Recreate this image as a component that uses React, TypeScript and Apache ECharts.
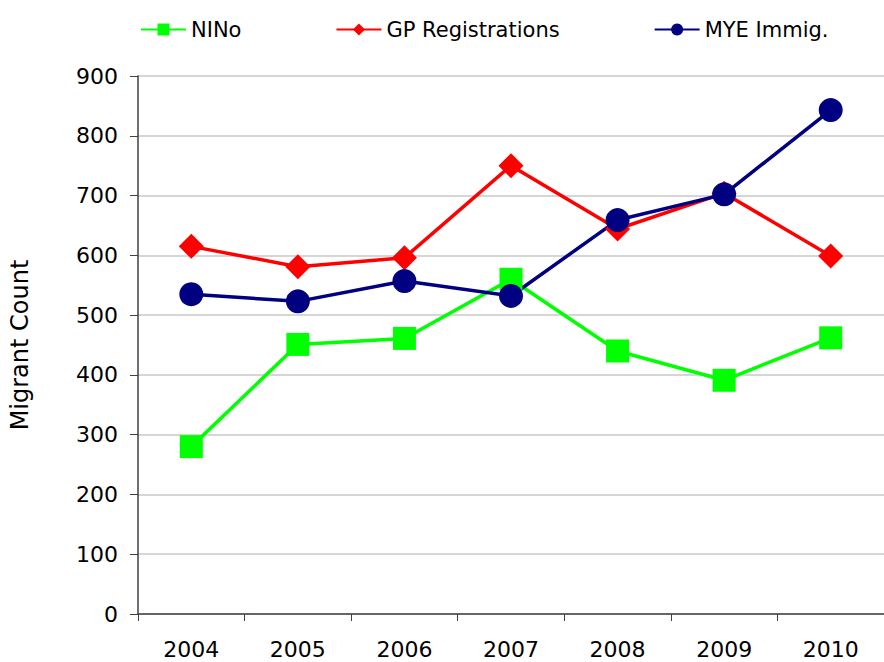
import React, { useEffect, useRef } from "react";
import * as echarts from "echarts";

const categories = ["2004", "2005", "2006", "2007", "2008", "2009", "2010"];
const ninoValues = [280, 451, 461, 560, 440, 391, 462];
const gpValues = [615, 581, 596, 750, 644, 704, 599];
const myeValues = [535, 523, 557, 532, 659, 702, 843];
const seriesNames = ["NINo", "GP Registrations", "MYE Immig."];

export default function App() {
  const ref = useRef<HTMLDivElement>(null);
  useEffect(() => {
    document.body.style.margin = "0";
    if (!ref.current) return;
    const chart = echarts.init(ref.current, undefined, { renderer: "svg" });
    const font = "'DejaVu Sans', 'Liberation Sans', Arial, sans-serif";
    chart.setOption({
      animation: false,
      backgroundColor: "#ffffff",
      textStyle: { fontFamily: font },
      legend: {
        top: 19,
        left: 140,
        itemGap: 94,
        itemWidth: 45,
        itemHeight: 15,
        padding: 0,
        textStyle: { fontSize: 21, color: "#000", fontFamily: font },
        data: seriesNames,
      },
      grid: { left: 136, top: 76, right: -8, bottom: 48, containLabel: false },
      xAxis: {
        type: "category",
        data: categories,
        boundaryGap: true,
        axisLine: { lineStyle: { color: "#404040", width: 1.5 } },
        axisTick: { show: true, length: 7, lineStyle: { color: "#404040" } },
        axisLabel: { fontSize: 22, color: "#000", margin: 24, fontFamily: font },
        splitLine: { show: false },
      },
      yAxis: {
        type: "value",
        min: 0,
        max: 900,
        interval: 100,
        name: "Migrant Count",
        nameLocation: "middle",
        nameGap: 106,
        nameRotate: 90,
        nameTextStyle: { fontSize: 24, color: "#000", fontFamily: font },
        axisLine: { show: true, lineStyle: { color: "#404040", width: 1.5 } },
        axisTick: { show: true, length: 8, lineStyle: { color: "#404040" } },
        axisLabel: { fontSize: 22, color: "#000", margin: 20, fontFamily: font },
        splitLine: { show: true, lineStyle: { color: "#c8c8c8", width: 1.5 } },
      },
      series: [
        {
          name: seriesNames[0],
          type: "line",
          data: ninoValues,
          symbol: "rect",
          symbolSize: 23,
          lineStyle: { color: "#00ff00", width: 3.5 },
          itemStyle: { color: "#00ff00" },
        },
        {
          name: seriesNames[1],
          type: "line",
          data: gpValues,
          symbol: "diamond",
          symbolSize: 25,
          lineStyle: { color: "#ff0000", width: 3.5 },
          itemStyle: { color: "#ff0000" },
        },
        {
          name: seriesNames[2],
          type: "line",
          data: myeValues,
          symbol: "circle",
          symbolSize: 24,
          lineStyle: { color: "#000080", width: 3.5 },
          itemStyle: { color: "#000080" },
        },
      ],
    });
    return () => chart.dispose();
  }, []);
  return <div ref={ref} style={{ width: 884, height: 662 }} />;
}
